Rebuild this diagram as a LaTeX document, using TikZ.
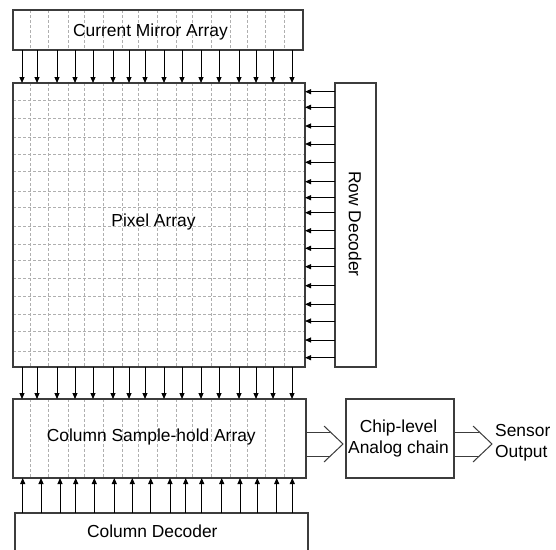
\documentclass[tikz,border=0pt]{standalone}
\usepackage{fontspec}
\setmainfont{Liberation Sans}
\usetikzlibrary{arrows.meta,backgrounds}
\definecolor{boxc}{RGB}{60,60,60}
\definecolor{gridc}{RGB}{175,175,175}
\begin{document}
\begin{tikzpicture}[x=1pt,y=-1pt,
  box/.style={draw=boxc, line width=1.4pt, rectangle, inner sep=0pt, outer sep=0pt, anchor=north west},
  boxline/.style={draw=boxc, line width=1.4pt},
  gridline/.style={draw=gridc, line width=0.8pt, dash pattern=on 3pt off 2pt},
  arr/.style={draw=black, line width=1pt, -{Triangle[length=6pt,width=5pt]}},
  hol/.style={draw=boxc, line width=1pt},
  lbl/.style={font=\fontsize{17.4}{21}\selectfont, inner sep=0pt, text=black}]
\useasboundingbox (0,0) rectangle (556,549);

% blocks
\node[box, minimum width=290pt, minimum height=40pt] (cm) at (13,10) {};
\node[box, minimum width=292pt, minimum height=284pt] (pa) at (13,83) {};
\node[box, minimum width=41pt, minimum height=284pt] (rd) at (335,83) {};
\node[box, minimum width=293pt, minimum height=79pt] (cs) at (13,399) {};
\node[box, draw=none, minimum width=293pt, minimum height=42pt] (cd) at (15,513) {};
\node[box, minimum width=108pt, minimum height=79pt] (ch) at (346,399) {};
\draw[boxline] (cd.south west) -- (cd.north west) -- (cd.north east) -- (cd.south east);

% grids
\begin{pgfonlayer}{background}
\foreach \x in {30,48,68,84,103,122,138,157,176,192,211,230,247,265,284}{
  \coordinate (gx) at (\x,0);
  \draw[gridline] (cm.north -| gx) -- (cm.south -| gx);
  \draw[gridline] (pa.north -| gx) -- (pa.south -| gx);
  \draw[gridline] (cs.north -| gx) -- (cs.south -| gx);
}
\foreach \y in {100,118.3,137.7,154.3,171.7,191.7,207.7,226.7,244.3,260.3,278.3,296.7,314,331.7,351}{
  \coordinate (gy) at (0,\y);
  \draw[gridline] (pa.west |- gy) -- (pa.east |- gy);
}
\end{pgfonlayer}

% column arrows
\foreach \x in {22,37,57,75,93,113,129,145,164,182,201,219,239,256,273,292}{
  \coordinate (ax) at (\x,0);
  \draw[arr] (cm.south -| ax) -- (pa.north -| ax);
  \draw[arr] (pa.south -| ax) -- (cs.north -| ax);
}
\foreach \x in {22.7,41,60,75.7,94.3,114.3,132.3,150.7,170,185.7,201.7,221.7,240,257.3,276.7,292.3}{
  \coordinate (bx) at (\x,0);
  \draw[arr] (cd.north -| bx) -- (cs.south -| bx);
}
% row arrows
\foreach \y in {91.7,107.3,126,144,162.3,181.7,197.7,212.7,230.7,248.3,266.7,285.7,304.3,321,340,357.7}{
  \coordinate (ry) at (0,\y);
  \draw[arr] (rd.west |- ry) -- (pa.east |- ry);
}

% hollow arrows
\coordinate (ya) at (0,432);
\coordinate (yb) at (0,456);
\coordinate (k1a) at (324,426);
\coordinate (k1t) at (343,444);
\coordinate (k1b) at (324,462);
\coordinate (e1a) at (330.3,432);
\coordinate (e1b) at (330.3,456);
\draw[hol] (cs.east |- ya) -- (e1a);
\draw[hol] (cs.east |- yb) -- (e1b);
\draw[hol] (k1a) -- (k1t) -- (k1b);
\coordinate (k2a) at (473,426);
\coordinate (k2t) at (492,444);
\coordinate (k2b) at (473,462);
\coordinate (e2a) at (479.3,432);
\coordinate (e2b) at (479.3,456);
\draw[hol] (ch.east |- ya) -- (e2a);
\draw[hol] (ch.east |- yb) -- (e2b);
\draw[hol] (k2a) -- (k2t) -- (k2b);

% labels
\node[lbl, anchor=base] (cmT) at (150.5,36.5) {Current Mirror Array};
\node[lbl, anchor=base] (paT) at (153.5,226) {Pixel Array};
\node[lbl, anchor=base] (csT) at (151.3,441.5) {Column Sample-hold Array};
\node[lbl, anchor=base] (cdT) at (152.3,537) {Column Decoder};
\node[lbl, rotate=-90] (rdT) at (355,224) {Row Decoder};
\node[lbl, align=center] (chT) at (398.5,438.5) {Chip-level\\Analog chain};
\node[lbl, align=left, anchor=west] (soT) at (495,443) {Sensor\\Output};
\end{tikzpicture}
\end{document}
